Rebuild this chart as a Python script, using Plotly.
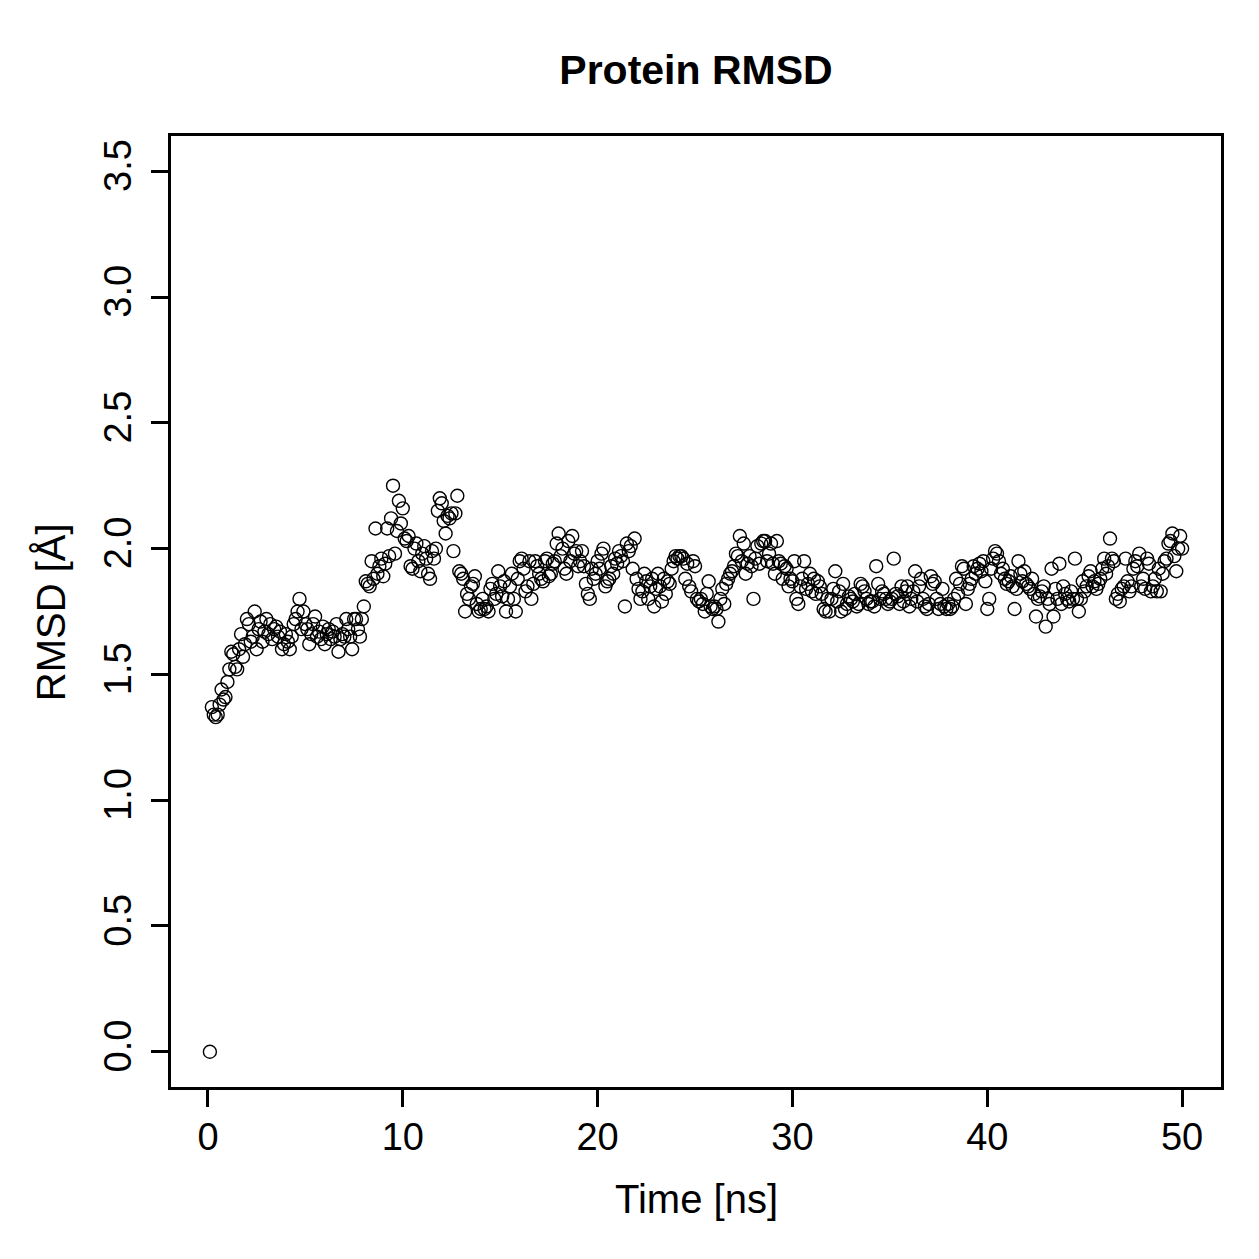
import numpy as np
import plotly.graph_objects as go

# Time axis: 0.1 ns steps (500 frames)
time_ns = [round(0.1 * (i + 1), 1) for i in range(500)]

rmsd_0_10 = [
    0.00, 1.37, 1.34, 1.33, 1.34, 1.38, 1.44, 1.40, 1.41, 1.47,
    1.52, 1.59, 1.58, 1.53, 1.52, 1.60, 1.66, 1.57, 1.62, 1.72,
    1.70, 1.63, 1.65, 1.75, 1.60, 1.68, 1.71, 1.63, 1.67, 1.72,
    1.66, 1.70, 1.64, 1.68, 1.69, 1.65, 1.67, 1.60, 1.62, 1.66,
    1.63, 1.60, 1.65, 1.70, 1.72, 1.75, 1.80, 1.68, 1.75, 1.70,
    1.68, 1.62, 1.66, 1.70, 1.73, 1.65, 1.67, 1.64, 1.69, 1.62,
    1.66, 1.68, 1.64, 1.67, 1.65, 1.70, 1.59, 1.64, 1.66, 1.65,
    1.72, 1.68, 1.65, 1.60, 1.72, 1.72, 1.68, 1.65, 1.72, 1.77,
    1.87, 1.86, 1.85, 1.95, 1.88, 2.08, 1.90, 1.93, 1.96, 1.89,
    1.94, 2.08, 1.97, 2.12, 2.25, 1.98, 2.07, 2.19, 2.10, 2.16,
]
rmsd_10_20 = [
    2.04, 2.03, 2.05, 1.93, 1.92, 2.00, 2.02, 1.95, 1.91, 1.98,
    2.01, 1.96, 1.90, 1.88, 1.99, 1.96, 2.00, 2.15, 2.20, 2.18,
    2.11, 2.06, 2.13, 2.12, 2.14, 1.99, 2.14, 2.21, 1.91, 1.90,
    1.88, 1.75, 1.82, 1.80, 1.85, 1.86, 1.89, 1.78, 1.75, 1.76,
    1.80, 1.76, 1.77, 1.75, 1.84, 1.86, 1.80, 1.82, 1.91, 1.85,
    1.81, 1.87, 1.75, 1.80, 1.85, 1.90, 1.80, 1.75, 1.88, 1.95,
    1.96, 1.92, 1.83, 1.85, 1.95, 1.80, 1.86, 1.95, 1.93, 1.90,
    1.88, 1.87, 1.95, 1.96, 1.89, 1.90, 1.94, 1.95, 2.02, 2.06,
    1.97, 2.00, 1.92, 1.90, 2.03, 1.95, 2.05, 1.98, 1.99, 1.93,
    1.95, 1.99, 1.93, 1.86, 1.82, 1.80, 1.92, 1.88, 1.90, 1.95,
]
rmsd_20_30 = [
    1.92, 1.98, 2.00, 1.85, 1.87, 1.88, 1.93, 1.90, 1.96, 1.94,
    1.99, 1.97, 1.95, 1.77, 2.02, 1.99, 2.01, 1.92, 2.04, 1.88,
    1.84, 1.80, 1.83, 1.90, 1.87, 1.80, 1.85, 1.88, 1.77, 1.84,
    1.90, 1.85, 1.79, 1.88, 1.82, 1.87, 1.86, 1.92, 1.95, 1.97,
    1.96, 1.97, 1.97, 1.96, 1.88, 1.94, 1.85, 1.83, 1.95, 1.93,
    1.80, 1.79, 1.80, 1.78, 1.75, 1.82, 1.87, 1.77, 1.76, 1.77,
    1.76, 1.71, 1.80, 1.84, 1.78, 1.86, 1.88, 1.90, 1.91, 1.93,
    1.98, 1.97, 2.05, 1.95, 2.02, 1.90, 1.94, 1.97, 1.93, 1.80,
    1.96, 2.01, 1.94, 2.02, 2.03, 2.03, 1.95, 1.98, 2.02, 1.94,
    1.90, 2.03, 1.95, 1.94, 1.88, 1.93, 1.92, 1.85, 1.88, 1.87,
]
rmsd_30_40 = [
    1.95, 1.80, 1.78, 1.85, 1.88, 1.95, 1.84, 1.86, 1.90, 1.83,
    1.88, 1.82, 1.87, 1.85, 1.82, 1.76, 1.75, 1.80, 1.75, 1.80,
    1.84, 1.91, 1.79, 1.83, 1.75, 1.86, 1.76, 1.78, 1.81, 1.80,
    1.79, 1.82, 1.77, 1.78, 1.86, 1.85, 1.83, 1.80, 1.78, 1.79,
    1.79, 1.77, 1.93, 1.86, 1.80, 1.83, 1.82, 1.80, 1.78, 1.79,
    1.80, 1.96, 1.82, 1.81, 1.78, 1.85, 1.79, 1.83, 1.85, 1.77,
    1.80, 1.83, 1.91, 1.79, 1.85, 1.88, 1.80, 1.77, 1.76, 1.78,
    1.89, 1.86, 1.87, 1.80, 1.76, 1.78, 1.84, 1.77, 1.76, 1.78,
    1.76, 1.77, 1.80, 1.88, 1.82, 1.86, 1.93, 1.92, 1.78, 1.84,
    1.86, 1.88, 1.93, 1.90, 1.92, 1.94, 1.91, 1.95, 1.87, 1.76,
]
rmsd_40_50 = [
    1.80, 1.92, 1.96, 1.99, 1.98, 1.95, 1.90, 1.92, 1.88, 1.86,
    1.87, 1.89, 1.85, 1.76, 1.84, 1.95, 1.90, 1.87, 1.91, 1.86,
    1.85, 1.84, 1.88, 1.82, 1.73, 1.80, 1.81, 1.83, 1.85, 1.69,
    1.80, 1.78, 1.92, 1.73, 1.84, 1.80, 1.94, 1.78, 1.85, 1.82,
    1.80, 1.79, 1.83, 1.80, 1.96, 1.80, 1.75, 1.80, 1.87, 1.83,
    1.85, 1.89, 1.91, 1.85, 1.87, 1.84, 1.86, 1.88, 1.92, 1.96,
    1.90, 1.93, 2.04, 1.96, 1.95, 1.80, 1.82, 1.79, 1.84, 1.85,
    1.96, 1.87, 1.83, 1.85, 1.92, 1.95, 1.93, 1.98, 1.85, 1.88,
    1.84, 1.96, 1.94, 1.83, 1.85, 1.88, 1.83, 1.92, 1.83, 1.90,
    1.95, 1.96, 2.02, 2.03, 2.06, 1.97, 1.91, 2.00, 2.05, 2.00,
]
rmsd = rmsd_0_10 + rmsd_10_20 + rmsd_20_30 + rmsd_30_40 + rmsd_40_50

x_ticks = [0, 10, 20, 30, 40, 50]
y_ticks = [0.0, 0.5, 1.0, 1.5, 2.0, 2.5, 3.0, 3.5]

FONT = "Liberation Sans, Arial, Helvetica, sans-serif"

fig = go.Figure(
    go.Scatter(
        x=time_ns, y=rmsd, mode="markers",
        marker=dict(symbol="circle-open", size=13, color="black",
                    line=dict(width=1.4, color="black")),
        showlegend=False, hoverinfo="skip",
    )
)

axis_common = dict(
    showgrid=False, zeroline=False, showline=True, mirror=True,
    linecolor="black", linewidth=2.5, ticks="outside", ticklen=17,
    tickwidth=2.5, tickcolor="black",
    tickfont=dict(family=FONT, size=38, color="black"),
)

fig.update_layout(
    width=1259, height=1259,
    margin=dict(l=171, r=38, t=136, b=172),
    paper_bgcolor="white", plot_bgcolor="white",
    xaxis=dict(range=[-1.896, 51.996], tickvals=x_ticks,
               ticktext=[str(v) for v in x_ticks], ticklabelstandoff=-2,
               **axis_common),
    yaxis=dict(range=[-0.14, 3.64], tickvals=y_ticks,
               ticktext=[f"{v:.1f}" for v in y_ticks], tickangle=-90,
               ticklabelstandoff=5, **axis_common),
    title=dict(text="<b>Protein RMSD</b>", x=0.5528, xanchor="center",
               y=1 - 70 / 1259, yanchor="middle", yref="container",
               font=dict(family=FONT, size=41, color="black")),
    annotations=[
        dict(text="Time [ns]", xref="paper", yref="paper",
             x=0.5, y=(1088 - 1200) / 953, xanchor="center", yanchor="middle",
             showarrow=False, font=dict(family=FONT, size=40, color="black")),
        dict(text="RMSD [Å]", xref="paper", yref="paper",
             x=(50 - 170) / 1052, y=(1088 - 612) / 953, xanchor="center",
             yanchor="middle", textangle=-90, showarrow=False,
             font=dict(family=FONT, size=40, color="black")),
    ],
)

fig.write_html("out.html")
